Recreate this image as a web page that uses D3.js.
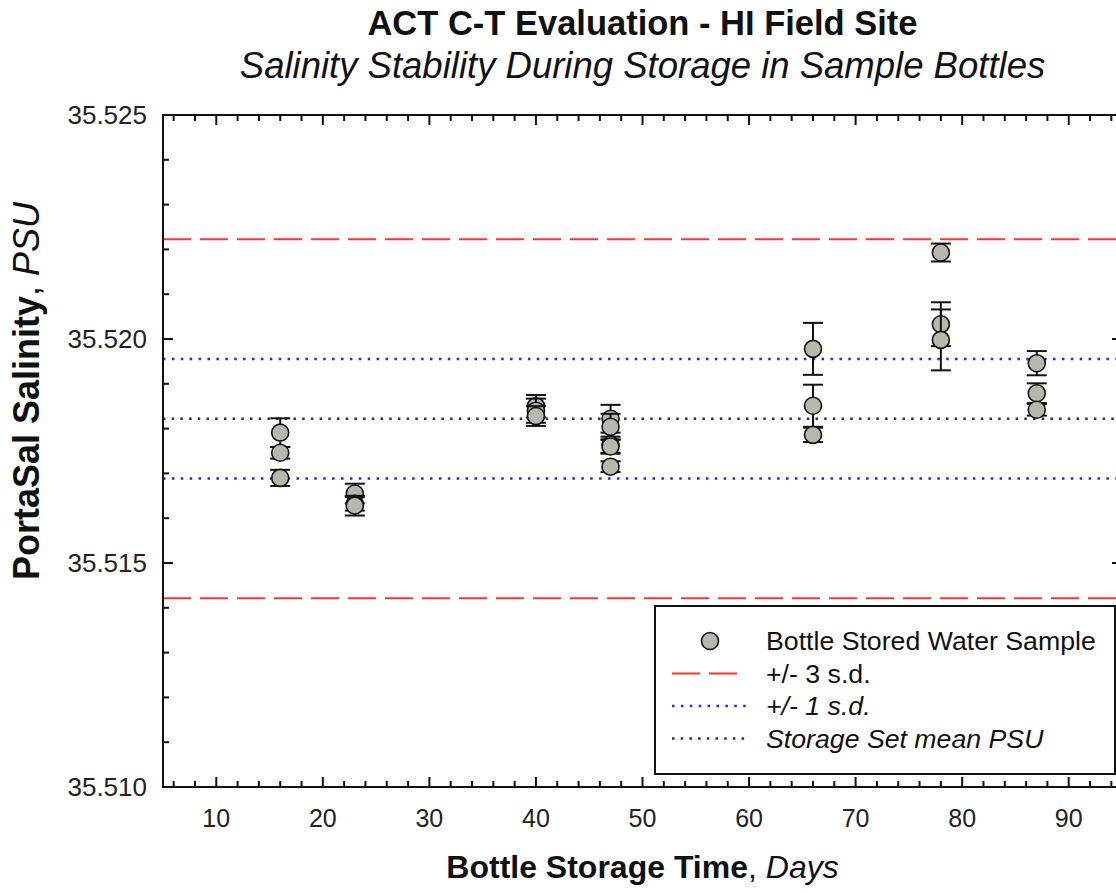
<!DOCTYPE html>
<html>
<head>
<meta charset="utf-8">
<script src="https://cdn.jsdelivr.net/npm/d3@7"></script>
<style>
  body { margin: 0; background: #fff; }
  svg { font-family: Arial, "Liberation Sans", Helvetica, sans-serif; }
</style>
</head>
<body>
<div id="chart"></div>
<script>
// storage time of each bottle (days)
var days = [16, 16, 16, 23, 23, 23, 40, 40, 40, 47, 47, 47, 47, 47, 66, 66, 66, 78, 78, 78, 87, 87, 87];
// PortaSal salinity (PSU)
var psu = [35.51791, 35.51746, 35.51690,
           35.51655, 35.51632, 35.51628,
           35.51850, 35.51840, 35.51828,
           35.51822, 35.51804, 35.51764, 35.51760, 35.51715,
           35.51978, 35.51851, 35.51786,
           35.52193, 35.52033, 35.51998,
           35.51946, 35.51879, 35.51842];
// +/- error of each reading (PSU)
var psuErr = [0.00032, 0.00013, 0.00018,
              0.00022, 0.00015, 0.00022,
              0.00025, 0.00027, 0.00022,
              0.00031, 0.00029, 0.00018, 0.00016, 0.00012,
              0.00058, 0.00047, 0.00016,
              0.00020, 0.00049, 0.00068,
              0.00027, 0.00022, 0.00013];

var meanPSU = 35.51822;
var sdPSU = 0.001335;

var xTicks = [10, 20, 30, 40, 50, 60, 70, 80, 90];
var yTicks = [35.510, 35.515, 35.520, 35.525];

var width = 1116, height = 893;
var margin = { left: 163, top: 115, right: -6, bottom: 106 };

var svg = d3.select('#chart').append('svg')
  .attr('width', width)
  .attr('height', height);

var x = d3.scaleLinear().domain([5, 95]).range([margin.left, width - margin.right]);
var y = d3.scaleLinear().domain([35.510, 35.525]).range([height - margin.bottom, margin.top]);

var x0 = x.range()[0], x1 = x.range()[1];
var y0 = y.range()[0], y1 = y.range()[1];

// reference lines
var refLines = [
  { v: meanPSU + 3 * sdPSU, color: '#ff3333', dash: '28,9', w: 2 },
  { v: meanPSU - 3 * sdPSU, color: '#ff3333', dash: '28,9', w: 2 },
  { v: meanPSU + sdPSU, color: '#2222ff', dash: '2.5,6.4', w: 2.5 },
  { v: meanPSU - sdPSU, color: '#2222ff', dash: '2.5,6.4', w: 2.5 },
  { v: meanPSU, color: '#333333', dash: '2.5,6.2', w: 2.5 }
];

svg.selectAll('.ref')
  .data(refLines)
  .enter().append('line')
  .attr('x1', x0).attr('x2', x1)
  .attr('y1', function(d) { return y(d.v); })
  .attr('y2', function(d) { return y(d.v); })
  .attr('stroke', function(d) { return d.color; })
  .attr('stroke-width', function(d) { return d.w; })
  .attr('stroke-dasharray', function(d) { return d.dash; });

// frame and inward ticks
var axes = svg.append('g').attr('stroke', '#111').attr('stroke-width', 2);

var xMinor = d3.range(6, 96, 2);
var yMinor = d3.range(0, 16).map(function(i) { return 35.510 + i * 0.001; });

xMinor.forEach(function(t) {
  var len = (t % 10 === 0) ? 10 : 6;
  axes.append('line').attr('x1', x(t)).attr('x2', x(t)).attr('y1', y0).attr('y2', y0 - len);
  axes.append('line').attr('x1', x(t)).attr('x2', x(t)).attr('y1', y1).attr('y2', y1 + len);
});
yMinor.forEach(function(t, i) {
  var len = (i % 5 === 0) ? 10 : 6;
  axes.append('line').attr('x1', x0).attr('x2', x0 + len).attr('y1', y(t)).attr('y2', y(t));
  axes.append('line').attr('x1', x1).attr('x2', x1 - len).attr('y1', y(t)).attr('y2', y(t));
});

axes.append('rect')
  .attr('x', x0).attr('y', y1)
  .attr('width', x1 - x0).attr('height', y0 - y1)
  .attr('fill', 'none');

// tick labels
svg.selectAll('.xt')
  .data(xTicks)
  .enter().append('text')
  .attr('x', function(d) { return x(d); })
  .attr('y', y0 + 40)
  .attr('text-anchor', 'middle')
  .style('font-size', '25px')
  .attr('fill', '#222')
  .text(function(d) { return d; });

svg.selectAll('.yt')
  .data(yTicks)
  .enter().append('text')
  .attr('x', x0 - 16)
  .attr('y', function(d) { return y(d) + 9; })
  .attr('text-anchor', 'end')
  .style('font-size', '26px')
  .attr('fill', '#222')
  .text(function(d) { return d3.format('.3f')(d); });

// data points with error bars, drawn one after another
var points = days.map(function(d, i) { return { day: d, v: psu[i], e: psuErr[i] }; });

var pt = svg.selectAll('.pt')
  .data(points)
  .enter().append('g');

pt.append('line')
  .attr('x1', function(d) { return x(d.day); })
  .attr('x2', function(d) { return x(d.day); })
  .attr('y1', function(d) { return y(d.v + d.e); })
  .attr('y2', function(d) { return y(d.v - d.e); })
  .attr('stroke', '#111').attr('stroke-width', 2);

[1, -1].forEach(function(s) {
  pt.append('line')
    .attr('x1', function(d) { return x(d.day) - 10; })
    .attr('x2', function(d) { return x(d.day) + 10; })
    .attr('y1', function(d) { return y(d.v + s * d.e); })
    .attr('y2', function(d) { return y(d.v + s * d.e); })
    .attr('stroke', '#111').attr('stroke-width', 2);
});

pt.append('circle')
  .attr('cx', function(d) { return x(d.day); })
  .attr('cy', function(d) { return y(d.v); })
  .attr('r', 8.5)
  .attr('fill', '#b7b7ab')
  .attr('stroke', '#111')
  .attr('stroke-width', 1.6);

// legend
var lg = svg.append('g');
lg.append('rect')
  .attr('x', 655).attr('y', 606)
  .attr('width', 460).attr('height', 168)
  .attr('fill', '#fff').attr('stroke', '#111').attr('stroke-width', 2);

var legendItems = [
  { label: 'Bottle Stored Water Sample', italic: false, type: 'circle' },
  { label: '+/- 3 s.d.', italic: false, type: 'line', ref: refLines[0], len: 65 },
  { label: '+/- 1 s.d.', italic: true, type: 'line', ref: refLines[2], len: 75 },
  { label: 'Storage Set mean PSU', italic: true, type: 'line', ref: refLines[4], len: 75 }
];

legendItems.forEach(function(d, i) {
  var cy = 641 + i * 32.5;
  if (d.type === 'circle') {
    lg.append('circle').attr('cx', 710).attr('cy', cy).attr('r', 8.5)
      .attr('fill', '#b7b7ab').attr('stroke', '#111').attr('stroke-width', 1.6);
  } else {
    lg.append('line').attr('x1', 672).attr('x2', 672 + d.len).attr('y1', cy).attr('y2', cy)
      .attr('stroke', d.ref.color).attr('stroke-width', d.ref.w)
      .attr('stroke-dasharray', d.ref.dash);
  }
  lg.append('text')
    .attr('x', 766).attr('y', cy + 9)
    .style('font-size', '26.7px')
    .style('font-style', d.italic ? 'italic' : 'normal')
    .attr('fill', '#111')
    .text(d.label);
});

// titles
var cx = (x0 + x1) / 2;
svg.append('text')
  .attr('x', cx).attr('y', 35)
  .attr('text-anchor', 'middle')
  .style('font-size', '34.5px').style('font-weight', 'bold')
  .attr('fill', '#111')
  .text('ACT C-T Evaluation - HI Field Site');

svg.append('text')
  .attr('x', cx).attr('y', 78)
  .attr('text-anchor', 'middle')
  .style('font-size', '36.5px').style('font-style', 'italic')
  .attr('fill', '#111')
  .text('Salinity Stability During Storage in Sample Bottles');

var xl = svg.append('text')
  .attr('x', cx).attr('y', 878)
  .attr('text-anchor', 'middle')
  .style('font-size', '32px')
  .attr('fill', '#111');
xl.append('tspan').style('font-weight', 'bold').text('Bottle Storage Time');
xl.append('tspan').text(', ');
xl.append('tspan').style('font-style', 'italic').text('Days');

var yl = svg.append('text')
  .attr('transform', 'translate(39,391) rotate(-90)')
  .attr('text-anchor', 'middle')
  .style('font-size', '36px')
  .attr('fill', '#111');
yl.append('tspan').style('font-weight', 'bold').text('PortaSal Salinity');
yl.append('tspan').text(', ');
yl.append('tspan').style('font-style', 'italic').text('PSU');
</script>
</body>
</html>
